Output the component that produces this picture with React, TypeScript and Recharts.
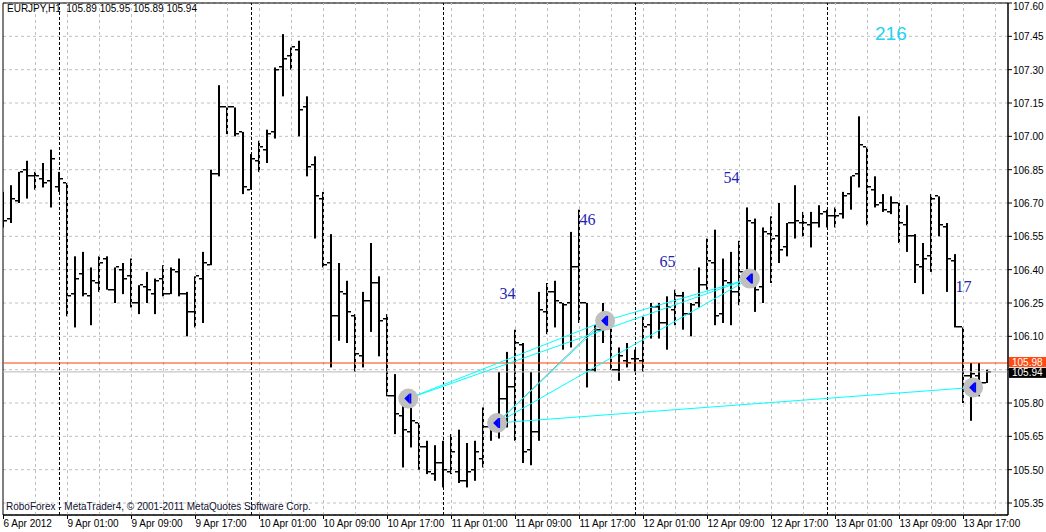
import React from "react";
import {
  ComposedChart,
  Bar,
  Scatter,
  XAxis,
  YAxis,
  CartesianGrid,
  ReferenceLine,
  ReferenceArea,
} from "recharts";

// EURJPY H1, one entry per bar (6 Apr 2012 .. 13 Apr 2012 20:00)
const opens = [
  106.69, 106.63, 106.71, 106.85, 106.82, 106.81, 106.80, 106.77, 106.79, 106.29,
  106.38, 106.28, 106.34, 106.45, 106.31, 106.40, 106.37, 106.25, 106.32, 106.29,
  106.36, 106.29, 106.39, 106.29, 106.21, 106.36, 106.42, 106.83, 107.13, 107.13,
  107.02, 106.76, 106.89, 106.94, 107.02, 107.31, 107.36, 107.39, 107.13, 106.87,
  106.72, 106.43, 106.19, 106.29, 106.19, 106.01, 106.26, 106.34, 106.18, 105.83,
  105.74, 105.67, 105.71, 105.60, 105.48, 105.53, 105.49, 105.49, 105.45, 105.50,
  105.55, 105.69, 105.72, 105.82, 105.87, 106.06, 105.59, 105.67, 106.21, 106.30,
  106.25, 106.25, 106.41, 106.25, 105.95, 106.13, 106.16, 105.95, 105.99, 106.00,
  105.99, 106.15, 106.23, 106.16, 106.22, 106.28, 106.20, 106.25, 106.33, 106.43,
  106.20, 106.34, 106.30, 106.38, 106.61, 106.32, 106.56, 106.55, 106.50, 106.61,
  106.61, 106.60, 106.61, 106.66, 106.64, 106.65, 106.74, 106.83, 106.95, 106.76,
  106.70, 106.66, 106.70, 106.60, 106.55, 106.41, 106.46, 106.73, 106.59, 106.44,
  106.14, 105.92, 105.92, 105.89,
];
const highs = [
  106.75, 106.78, 106.84, 106.89, 106.84, 106.88, 106.94, 106.84, 106.79, 106.46,
  106.48, 106.41, 106.46, 106.46, 106.41, 106.43, 106.45, 106.33, 106.39, 106.36,
  106.42, 106.41, 106.45, 106.30, 106.37, 106.48, 106.85, 107.23, 107.13, 107.13,
  107.02, 106.92, 106.98, 107.03, 107.31, 107.46, 107.40, 107.43, 107.18, 106.91,
  106.75, 106.56, 106.43, 106.35, 106.20, 106.30, 106.52, 106.37, 106.20, 105.93,
  105.83, 105.84, 105.71, 105.63, 105.61, 105.63, 105.66, 105.68, 105.62, 105.63,
  105.78, 105.74, 105.94, 106.03, 106.13, 106.07, 105.94, 106.30, 106.34, 106.35,
  106.25, 106.57, 106.67, 106.25, 106.15, 106.25, 106.20, 106.05, 106.07, 106.04,
  106.19, 106.25, 106.25, 106.28, 106.31, 106.30, 106.25, 106.41, 106.54, 106.58,
  106.45, 106.48, 106.53, 106.68, 106.63, 106.59, 106.64, 106.70, 106.61, 106.78,
  106.66, 106.66, 106.69, 106.67, 106.68, 106.75, 106.82, 107.09, 106.95, 106.82,
  106.74, 106.73, 106.70, 106.69, 106.56, 106.52, 106.74, 106.73, 106.61, 106.47,
  106.14, 105.98, 105.98, 105.95,
];
const lows = [
  106.59, 106.61, 106.70, 106.72, 106.76, 106.77, 106.68, 106.75, 106.19, 106.14,
  106.28, 106.15, 106.30, 106.31, 106.25, 106.29, 106.23, 106.20, 106.25, 106.20,
  106.28, 106.29, 106.28, 106.10, 106.14, 106.16, 106.42, 106.82, 107.01, 107.00,
  106.74, 106.76, 106.84, 106.88, 106.99, 107.18, 107.30, 107.00, 106.82, 106.54,
  106.41, 105.96, 106.08, 106.07, 105.94, 105.96, 106.12, 106.01, 105.83, 105.66,
  105.51, 105.60, 105.50, 105.48, 105.45, 105.42, 105.48, 105.44, 105.42, 105.45,
  105.51, 105.63, 105.64, 105.69, 105.63, 105.53, 105.52, 105.63, 106.11, 106.14,
  106.04, 106.05, 106.16, 105.87, 105.94, 106.07, 105.95, 105.90, 105.96, 105.94,
  105.94, 106.09, 106.09, 106.04, 106.15, 106.13, 106.10, 106.23, 106.31, 106.15,
  106.16, 106.15, 106.24, 106.34, 106.21, 106.25, 106.34, 106.43, 106.46, 106.54,
  106.55, 106.50, 106.59, 106.59, 106.59, 106.63, 106.67, 106.77, 106.60, 106.68,
  106.66, 106.65, 106.52, 106.48, 106.34, 106.29, 106.39, 106.55, 106.30, 106.14,
  105.80, 105.72, 105.83, 105.89,
];
const closes = [
  106.62, 106.72, 106.84, 106.82, 106.82, 106.79, 106.90, 106.81, 106.28, 106.36,
  106.29, 106.35, 106.43, 106.31, 106.41, 106.36, 106.25, 106.33, 106.31, 106.35,
  106.29, 106.40, 106.29, 106.21, 106.37, 106.43, 106.83, 107.13, 107.13, 107.01,
  106.77, 106.90, 106.95, 107.01, 107.30, 107.35, 107.40, 107.12, 106.86, 106.73,
  106.42, 106.19, 106.30, 106.21, 106.02, 106.26, 106.34, 106.17, 105.83, 105.75,
  105.68, 105.72, 105.60, 105.49, 105.53, 105.50, 105.58, 105.45, 105.49, 105.58,
  105.69, 105.71, 105.82, 105.87, 106.07, 105.58, 105.67, 106.22, 106.30, 106.26,
  106.24, 106.41, 106.25, 105.95, 106.13, 106.16, 105.95, 106.01, 105.98, 106.00,
  106.14, 106.23, 106.16, 106.23, 106.28, 106.20, 106.24, 106.33, 106.44, 106.19,
  106.35, 106.30, 106.39, 106.62, 106.31, 106.57, 106.54, 106.49, 106.61, 106.62,
  106.61, 106.61, 106.65, 106.64, 106.64, 106.73, 106.82, 106.96, 106.77, 106.69,
  106.67, 106.70, 106.61, 106.55, 106.42, 106.45, 106.72, 106.60, 106.45, 106.14,
  105.92, 105.93, 105.89, 105.94,
];

const timeTicks = [0, 8, 16, 24, 32, 40, 48, 56, 64, 72, 80, 88, 96, 104, 112, 120];
const timeLabels = [
  "6 Apr 2012", "9 Apr 01:00", "9 Apr 09:00", "9 Apr 17:00",
  "10 Apr 01:00", "10 Apr 09:00", "10 Apr 17:00", "11 Apr 01:00",
  "11 Apr 09:00", "11 Apr 17:00", "12 Apr 01:00", "12 Apr 09:00",
  "12 Apr 17:00", "13 Apr 01:00", "13 Apr 09:00", "13 Apr 17:00",
];
const gridBars = [4, 8, 12, 16, 20, 24, 28, 32, 36, 40, 44, 48, 52, 56, 60, 64, 68, 72, 76, 80, 84, 88, 92, 96, 100, 104, 108, 112, 116, 120, 124];
const dayStarts = [7, 31, 55, 79, 103];
const priceTicks = [105.35, 105.5, 105.65, 105.8, 105.95, 106.1, 106.25, 106.4, 106.55, 106.7, 106.85, 107.0, 107.15, 107.3, 107.45, 107.6];
const yTickLabels = ["105.35", "105.50", "105.65", "105.80", "", "106.10", "106.25", "106.40", "106.55", "106.70", "106.85", "107.00", "107.15", "107.30", "107.45", "107.60"];
const bid = 105.94;
const ask = 105.98;

// fractal points and the lines joining them
const fractalBar = [50.6, 61.7, 75.2, 93.3, 121.2];
const fractalPrice = [105.82, 105.71, 106.17, 106.36, 105.87];
const fractalLinks = [[0, 2], [0, 3], [1, 2], [1, 3], [1, 4], [2, 3]];

// wave counts
const countBar = [62, 72, 82, 90, 119];
const countPrice = [106.27, 106.6, 106.41, 106.79, 106.3];
const countText = ["34", "46", "65", "54", "17"];

const X_DOMAIN = [-0.0625, 125.5625];
const Y_DOMAIN = [105.296, 107.6];
const FONT = "'Liberation Sans', Arial, sans-serif";

const bars = opens.map((o, i) => ({
  i,
  o,
  h: highs[i],
  l: lows[i],
  c: closes[i],
  range: [lows[i], highs[i]],
}));
const fractals = fractalBar.map((b, k) => ({ i: b, p: fractalPrice[k] }));
const counts = countBar.map((b, k) => ({ i: b, p: countPrice[k], t: countText[k] }));

function OhlcShape(props: any) {
  const { x, y, width, height, payload } = props;
  const top = Math.min(y, y + height);
  const h = Math.abs(height);
  const cx = Math.round(x + width / 2);
  const span = payload.h - payload.l || 1;
  const py = (p: number) => Math.round(top + ((payload.h - p) / span) * h);
  return (
    <g>
      <rect x={cx - 1} y={top} width={2} height={Math.max(h, 1)} fill="#000" />
      <rect x={cx - 4} y={py(payload.o) - 1} width={3} height={1.5} fill="#000" />
      <rect x={cx + 1} y={py(payload.c) - 1} width={3} height={1.5} fill="#000" />
    </g>
  );
}

function FractalMark(props: any) {
  const { cx, cy } = props;
  return (
    <g>
      <circle cx={cx} cy={cy} r={10} fill="#c0c0c0" />
      <path d={`M${cx - 4},${cy} L${cx + 1},${cy - 5} L${cx + 1},${cy + 5} Z`} fill="#0000ff" />
      <rect x={cx + 1} y={cy - 5} width={2} height={10} fill="#0000ff" />
    </g>
  );
}

function CountLabel(props: any) {
  const { cx, cy, payload } = props;
  return (
    <text x={cx} y={cy} fontSize={16} fontFamily="'Liberation Serif', serif" fill="#2424b4">
      {payload.t}
    </text>
  );
}

function XTick(props: any) {
  const { x, y, payload } = props;
  const k = timeTicks.indexOf(payload.value);
  return (
    <text x={x} y={y + 8} fontSize={10} fontFamily={FONT} fill="#000" textAnchor="start">
      {timeLabels[k]}
    </text>
  );
}

function YTick(props: any) {
  const { x, y, payload, index } = props;
  const top = index === priceTicks.length - 1;
  return (
    <text x={x} y={top ? y + 7 : y + 4} fontSize={10} fontFamily={FONT} fill="#000" textAnchor="start">
      {yTickLabels[index] ?? payload.value}
    </text>
  );
}

function PriceBox(fill: string, text: string, up: number) {
  return (props: any) => {
    const vb = props.viewBox;
    return (
      <g>
        <rect x={vb.x + vb.width + 1} y={vb.y - up} width={37} height={10} fill={fill} />
        <text x={vb.x + vb.width + 4} y={vb.y - up + 8.5} fontSize={10} fontFamily={FONT} fill="#fff">
          {text}
        </text>
      </g>
    );
  };
}

export default function App() {
  return (
    <div style={{ position: "absolute", left: 0, top: 0, width: 1046, height: 532, background: "#fff", overflow: "hidden" }}>
      <ComposedChart width={1046} height={532} data={bars} margin={{ top: 3, right: 0, bottom: 0, left: 3 }}>
        <CartesianGrid horizontal vertical={false} stroke="#c0c0c0" strokeDasharray="3 3" />
        {gridBars.map((b) => (
          <ReferenceLine key={"g" + b} x={b} stroke="#c0c0c0" strokeDasharray="3 3" ifOverflow="hidden" />
        ))}
        {dayStarts.map((b) => (
          <ReferenceLine key={"d" + b} x={b} stroke="#000" strokeDasharray="3 2" />
        ))}
        <XAxis
          dataKey="i"
          type="number"
          domain={X_DOMAIN}
          allowDataOverflow
          ticks={timeTicks}
          interval={0}
          height={17}
          tickSize={4}
          tickMargin={0}
          axisLine={{ stroke: "#000" }}
          tickLine={{ stroke: "#000" }}
          tick={<XTick />}
        />
        <YAxis
          orientation="right"
          type="number"
          domain={Y_DOMAIN}
          allowDataOverflow
          ticks={priceTicks}
          interval={0}
          width={38}
          tickSize={4}
          tickMargin={1}
          axisLine={{ stroke: "#000" }}
          tickLine={{ stroke: "#000" }}
          tick={<YTick />}
        />
        <ReferenceLine y={ask} stroke="#ff4000" label={PriceBox("#ff4a10", ask.toFixed(2), 6)} />
        <ReferenceLine y={bid} stroke="#b8b8b8" label={PriceBox("#000", bid.toFixed(2), 4)} />
        <Bar dataKey="range" barSize={6} shape={<OhlcShape />} isAnimationActive={false} />
        <ReferenceLine
          segment={[
            { x: fractalBar[1], y: fractalPrice[1] },
            { x: fractalBar[2], y: fractalPrice[2] + 0.01 },
          ]}
          stroke="#a0a0a0"
        />
        {fractalLinks.map(([a, b]) => (
          <ReferenceLine
            key={"f" + a + b}
            segment={[
              { x: fractalBar[a], y: fractalPrice[a] },
              { x: fractalBar[b], y: fractalPrice[b] },
            ]}
            stroke="#00ffff"
          />
        ))}
        <Scatter data={fractals} dataKey="p" shape={<FractalMark />} isAnimationActive={false} />
        <Scatter data={counts} dataKey="p" shape={<CountLabel />} isAnimationActive={false} />
        <ReferenceArea x1={X_DOMAIN[0]} x2={X_DOMAIN[1]} y1={Y_DOMAIN[0]} y2={Y_DOMAIN[1]} fill="none" stroke="#000" />
      </ComposedChart>
      <div style={{ position: "absolute", left: 7, top: 2, fontFamily: FONT, fontSize: 10, lineHeight: "13px", color: "#000", whiteSpace: "pre" }}>
        {"EURJPY,H1  105.89 105.95 105.89 105.94"}
      </div>
      <div style={{ position: "absolute", left: 6, top: 500, fontFamily: FONT, fontSize: 10, lineHeight: "13px", color: "#101030", whiteSpace: "pre" }}>
        {"RoboForex - MetaTrader4, © 2001-2011 MetaQuotes Software Corp."}
      </div>
      <div style={{ position: "absolute", left: 875, top: 23, fontFamily: FONT, fontSize: 19, lineHeight: "22px", color: "#22d3f3" }}>
        216
      </div>
    </div>
  );
}
